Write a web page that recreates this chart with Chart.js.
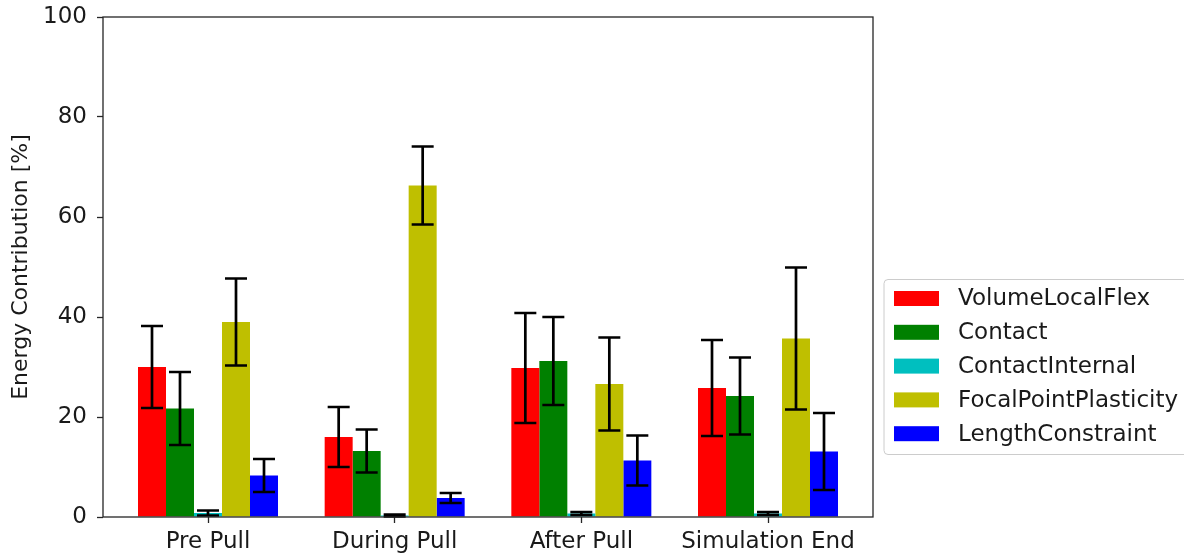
<!DOCTYPE html>
<html>
<head>
<meta charset="utf-8">
<script src="https://cdn.jsdelivr.net/npm/chart.js@4/dist/chart.umd.min.js"></script>
<style>
    html, body { margin: 0; padding: 0; background: #fff; }
    #wrap { width: 1184px; height: 557px; position: relative; }
</style>
</head>
<body>
<div id="wrap"><canvas id="energy-chart"></canvas></div>
<script>
// Categories and series (mean, error)
const phases = ['Pre Pull', 'During Pull', 'After Pull', 'Simulation End'];
const seriesNames = ['VolumeLocalFlex', 'Contact', 'ContactInternal', 'FocalPointPlasticity', 'LengthConstraint'];
const seriesColors = ['#ff0000', '#008000', '#00bfbf', '#bfbf00', '#0000ff'];

const volumeLocalFlex = [30.0, 16.0, 29.8, 25.8];
const contact = [21.7, 13.2, 31.2, 24.2];
const contactInternal = [0.8, 0.3, 0.7, 0.7];
const focalPointPlasticity = [39.0, 66.3, 26.6, 35.7];
const lengthConstraint = [8.3, 3.8, 11.3, 13.1];

const volumeLocalFlexErr = [8.2, 6.0, 11.0, 9.6];
const contactErr = [7.3, 4.3, 8.8, 7.7];
const contactInternalErr = [0.5, 0.2, 0.3, 0.3];
const focalPointPlasticityErr = [8.7, 7.8, 9.3, 14.2];
const lengthConstraintErr = [3.3, 1.0, 5.0, 7.7];

const yTicks = [0, 20, 40, 60, 80, 100];

const seriesValues = [volumeLocalFlex, contact, contactInternal, focalPointPlasticity, lengthConstraint];
const seriesErrors = [volumeLocalFlexErr, contactErr, contactInternalErr, focalPointPlasticityErr, lengthConstraintErr];

const FONT = "'DejaVu Sans', sans-serif";
const TEXT = '#1a1a1a';

// Error bars drawn from the y scale
const errorBars = {
    id: 'errorBars',
    afterDatasetsDraw(chart) {
        const ctx = chart.ctx;
        const y = chart.scales.y;
        ctx.save();
        ctx.strokeStyle = '#000';
        ctx.lineWidth = 2.7;
        chart.data.datasets.forEach((ds, di) => {
            const meta = chart.getDatasetMeta(di);
            meta.data.forEach((bar, i) => {
                const v = ds.data[i].y;
                const e = ds.errors[i];
                const top = y.getPixelForValue(v + e);
                const bot = y.getPixelForValue(Math.max(v - e, 0));
                const cap = 11;
                ctx.beginPath();
                ctx.moveTo(bar.x, top); ctx.lineTo(bar.x, bot);
                ctx.moveTo(bar.x - cap, top); ctx.lineTo(bar.x + cap, top);
                ctx.moveTo(bar.x - cap, bot); ctx.lineTo(bar.x + cap, bot);
                ctx.stroke();
            });
        });
        ctx.restore();
    }
};

// Plot frame and legend on the right
const frameAndLegend = {
    id: 'frameAndLegend',
    afterDraw(chart) {
        const ctx = chart.ctx;
        const a = chart.chartArea;
        ctx.save();
        ctx.strokeStyle = '#262626';
        ctx.lineWidth = 1.3;
        ctx.strokeRect(a.left, a.top, a.right - a.left, a.bottom - a.top);

        const lx = a.right + 11, ly = 279.5, lw = 320, lh = 175;
        ctx.strokeStyle = '#cccccc';
        ctx.lineWidth = 1;
        ctx.beginPath();
        if (ctx.roundRect) ctx.roundRect(lx, ly, lw, lh, 4); else ctx.rect(lx, ly, lw, lh);
        ctx.stroke();

        ctx.font = '23px ' + FONT;
        ctx.textBaseline = 'middle';
        chart.data.datasets.forEach((ds, i) => {
            const cy = 298.5 + i * 33.8;
            ctx.fillStyle = ds.backgroundColor;
            ctx.fillRect(lx + 10, cy - 7.5, 45, 15);
            ctx.fillStyle = TEXT;
            ctx.fillText(ds.label, lx + 74, cy + 1);
        });
        ctx.restore();
    }
};

new Chart(document.getElementById('energy-chart'), {
    type: 'bar',
    data: {
        datasets: seriesNames.map((name, s) => ({
            label: name,
            data: seriesValues[s].map((v, i) => ({ x: i, y: v })),
            errors: seriesErrors[s],
            backgroundColor: seriesColors[s],
            borderWidth: 0,
            categoryPercentage: 0.75,
            barPercentage: 1.0
        }))
    },
    options: {
        responsive: true,
        maintainAspectRatio: false,
        animation: false,
        layout: { padding: { top: 17, right: 311, left: 0, bottom: 0 } },
        plugins: {
            legend: { display: false },
            tooltip: { enabled: false }
        },
        scales: {
            x: {
                type: 'linear',
                offset: false,
                min: -0.5625,
                max: 3.5625,
                afterBuildTicks: scale => {
                    scale.ticks = phases.map((p, i) => ({ value: i }));
                },
                afterFit: scale => {
                    scale.height = 40;
                    scale.paddingLeft = 0;
                    scale.paddingRight = 0;
                },
                grid: { offset: false, drawOnChartArea: false, tickLength: 6, color: '#262626', tickWidth: 1.3 },
                border: { display: false },
                ticks: {
                    padding: 5,
                    color: TEXT,
                    font: { family: FONT, size: 23 },
                    maxRotation: 0,
                    autoSkip: false,
                    callback: value => phases[Math.round(value)]
                }
            },
            y: {
                min: 0,
                max: 100,
                afterBuildTicks: scale => {
                    scale.ticks = yTicks.map(v => ({ value: v }));
                },
                afterFit: scale => {
                    scale.width = 103;
                    scale.paddingTop = 0;
                    scale.paddingBottom = 0;
                },
                grid: { drawOnChartArea: false, tickLength: 6, color: '#262626', tickWidth: 1.3 },
                border: { display: false },
                ticks: {
                    padding: 10,
                    color: TEXT,
                    font: { family: FONT, size: 23 }
                },
                title: {
                    display: true,
                    text: 'Energy Contribution [%]',
                    color: TEXT,
                    font: { family: FONT, size: 22 },
                    padding: { top: 8, bottom: 0 }
                }
            }
        }
    },
    plugins: [errorBars, frameAndLegend]
});
</script>
</body>
</html>
